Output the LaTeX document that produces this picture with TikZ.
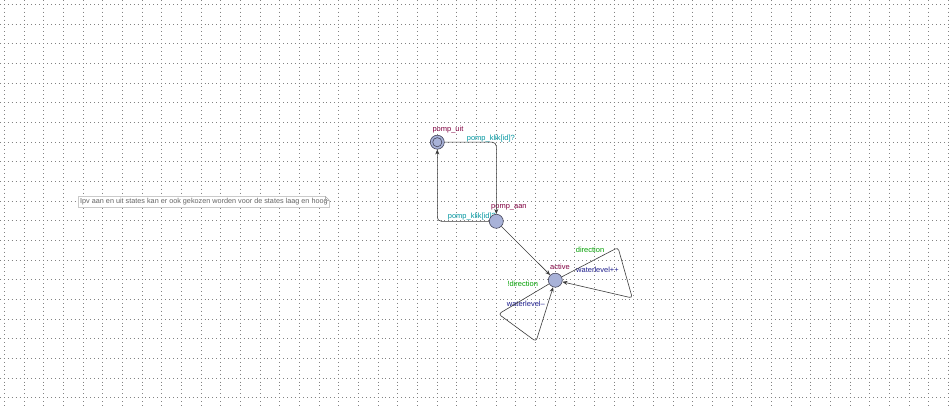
\documentclass[tikz,border=0pt]{standalone}
\usepackage{fontspec}
\setmainfont{Liberation Sans}
\usetikzlibrary{arrows.meta}
\definecolor{gridc}{RGB}{130,130,130}
\definecolor{locfill}{RGB}{168,178,216}
\definecolor{locdraw}{RGB}{70,70,90}
\definecolor{namec}{RGB}{128,0,64}
\definecolor{syncc}{RGB}{0,150,160}
\definecolor{guardc}{RGB}{0,160,0}
\definecolor{updc}{RGB}{30,30,140}
\definecolor{edgec}{RGB}{60,60,60}
\definecolor{commc}{RGB}{100,100,100}
\definecolor{commbox}{RGB}{175,175,175}
\begin{document}
\begin{tikzpicture}[x=1pt,y=-1pt,
  griddot/.style={gridc,line width=0.85pt,dash pattern=on 0.85pt off 3.084pt},
  loc/.style={circle,draw=locdraw,fill=locfill,line width=0.6pt,minimum size=14pt,inner sep=0pt},
  lbl/.style={font=\fontsize{7.5}{8}\selectfont,inner sep=0pt,anchor=base west},
  namelbl/.style={lbl,text=namec},
  synclbl/.style={lbl,text=syncc},
  guardlbl/.style={lbl,text=guardc},
  updlbl/.style={lbl,text=updc},
  edge/.style={draw=edgec,line width=0.6pt,-{Stealth[length=5pt,width=4pt]}},
  comm/.style={font=\fontsize{7.25}{8}\selectfont,text=commc,fill=white,inner xsep=1.5pt,inner ysep=2pt,anchor=west}
]
\useasboundingbox (0,0) rectangle (951,409);
\fill[white] (0,0) rectangle (951,409);
% grid
\foreach \i in {0,...,48} \draw[griddot] ({4.3+\i*19.67},-0.059) -- ({4.3+\i*19.67},409);
\foreach \j in {0,...,20} \draw[griddot] (-0.059,{4.3+\j*19.67}) -- (951,{4.3+\j*19.67});

% comment
\node[comm] (note) at (78.5,202) {Ipv aan en uit states kan er ook gekozen worden voor de states laag en hoog};
\draw[commbox,line width=0.5pt] (note.north west) -- ([xshift=-4pt]note.north east) -- ([yshift=-4pt]note.north east) -- (note.south east) -- (note.south west) -- cycle;
\draw[commbox,line width=0.5pt] ([xshift=-4pt]note.north east) -- ([xshift=-4pt,yshift=-4pt]note.north east) -- ([yshift=-4pt]note.north east);

% labels
\node[namelbl] (nuit) at (432.3,132) {pomp\_uit};
\node[namelbl] (naan) at (491,208) {pomp\_aan};
\node[namelbl] (nact) at (550,269.3) {active};
\node[synclbl] (s1) at (466.7,140.3) {pomp\_klik[id]?};
\node[synclbl] (s2) at (447.7,218.3) {pomp\_klik[id]?};
\node[guardlbl] (g1) at (575.7,252.7) {direction};
\node[updlbl] (u1) at (576,272.3) {waterlevel++};
\node[guardlbl] (g2) at (507.3,286) {!direction};
\node[updlbl] (u2) at (506.7,306) {waterlevel--};

% locations
\node[loc] (uit) at (437.3,142.2) {};
\draw[locdraw,line width=0.6pt] (uit) circle[radius=4.6];
\node[loc] (aan) at (496.3,221.3) {};
\node[loc] (act) at (555.3,280.2) {};

% nails
\coordinate (c1) at (618,247.5);
\coordinate (c2) at (632.3,298);
\coordinate (c3) at (498.5,314);
\coordinate (c4) at (536,341.5);

% edges
\draw[edge,rounded corners=4pt] (uit.east) -| (aan.north);
\draw[edge,rounded corners=4pt] (aan.west) -| (uit.south);
\draw[edge] (aan) -- (act);
\draw[edge,rounded corners=3pt] (act) -- (c1) -- (c2) -- (act);
\draw[edge,rounded corners=3pt] (act) -- (c3) -- (c4) -- (act);
\end{tikzpicture}
\end{document}
